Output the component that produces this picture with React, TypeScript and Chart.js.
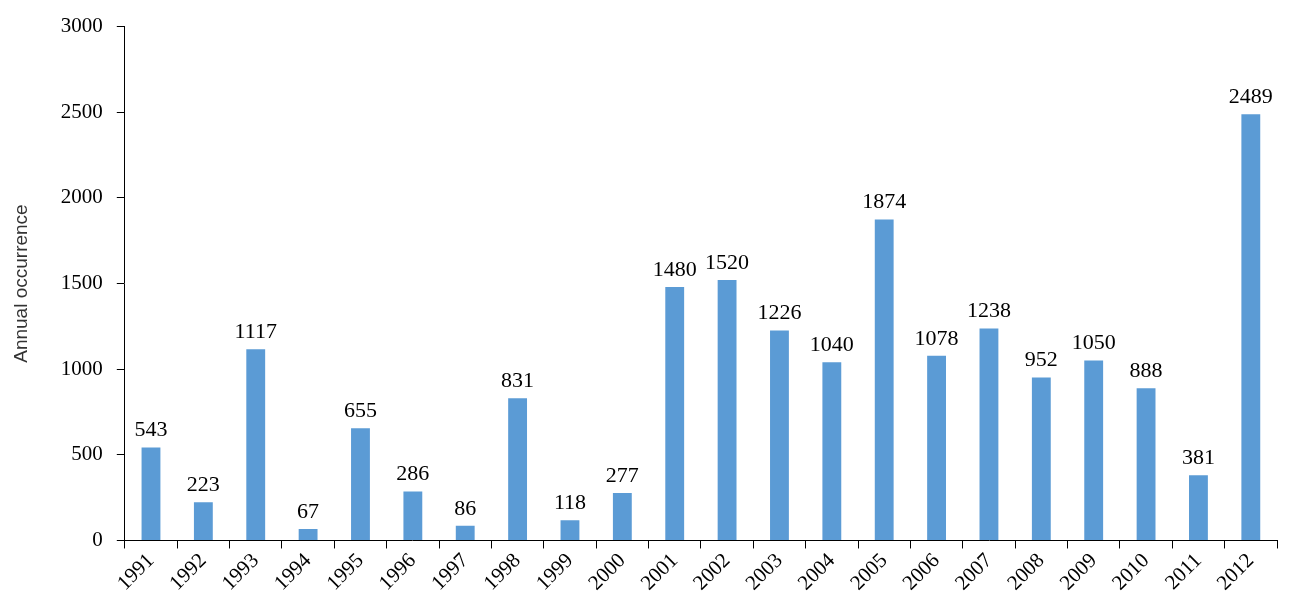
import React, { useEffect, useRef } from "react";
import { Chart, registerables } from "chart.js";

Chart.register(...registerables);

const years = ["1991","1992","1993","1994","1995","1996","1997","1998","1999","2000","2001","2002","2003","2004","2005","2006","2007","2008","2009","2010","2011","2012"];
const occurrences = [543,223,1117,67,655,286,86,831,118,277,1480,1520,1226,1040,1874,1078,1238,952,1050,888,381,2489];

const serif = "'Liberation Serif', 'Times New Roman', serif";

const valueLabels = {
  id: "valueLabels",
  afterDatasetsDraw(chart: any) {
    const ctx = chart.ctx;
    const meta = chart.getDatasetMeta(0);
    ctx.save();
    ctx.font = `22px ${serif}`;
    ctx.fillStyle = "#000";
    ctx.textAlign = "center";
    ctx.textBaseline = "bottom";
    meta.data.forEach((bar: any, i: number) => {
      ctx.fillText(String(occurrences[i]), bar.x, bar.y - 6);
    });
    ctx.restore();
  },
};

const App: React.FC = () => {
  const chartRef = useRef<HTMLCanvasElement | null>(null);

  useEffect(() => {
    document.body.style.margin = "0";
    if (!chartRef.current) return;
    const chart = new Chart(chartRef.current, {
      type: "bar",
      data: {
        labels: years,
        datasets: [
          {
            data: occurrences,
            backgroundColor: "#5b9bd5",
            barPercentage: 0.36,
            categoryPercentage: 1,
          },
        ],
      },
      options: {
        animation: false,
        responsive: false,
        maintainAspectRatio: false,
        layout: { padding: { top: 16, right: 14, left: 10, bottom: 16 } },
        plugins: { legend: { display: false }, tooltip: { enabled: false } },
        scales: {
          x: {
            grid: { drawOnChartArea: false, color: "#000", tickLength: 8, offset: true },
            border: { color: "#000", width: 1 },
            ticks: { color: "#000", font: { family: serif, size: 21 }, minRotation: 45, maxRotation: 45, padding: 0 },
          },
          y: {
            min: 0,
            max: 3000,
            grid: { drawOnChartArea: false, color: "#000", tickLength: 8 },
            border: { color: "#000", width: 1 },
            ticks: { stepSize: 500, color: "#000", font: { family: serif, size: 21 }, padding: 14, callback: (v: any) => String(v) },
            title: { display: true, text: "Annual occurrence", color: "#333", padding: { top: 0, bottom: 14 }, font: { family: "'Liberation Sans', Arial, sans-serif", size: 19 } },
          },
        },
      },
      plugins: [valueLabels],
    });
    return () => chart.destroy();
  }, []);

  return (
    <div style={{ width: 1291, height: 612, background: "#fff" }}>
      <canvas ref={chartRef} width={1291} height={612}></canvas>
    </div>
  );
};

export default App;
